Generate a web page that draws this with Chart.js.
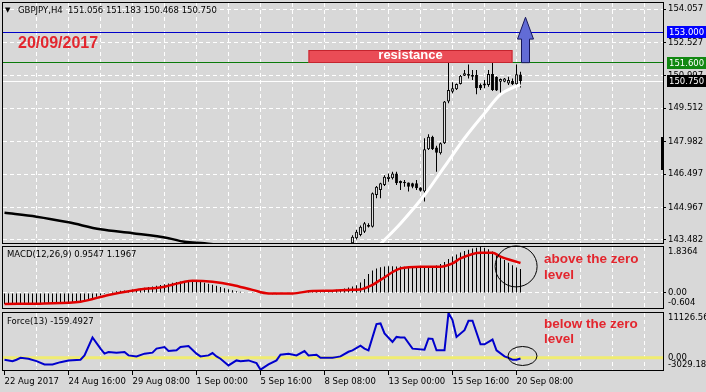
<!DOCTYPE html>
<html>
<head>
<meta charset="utf-8">
<title>GBPJPY H4</title>
<script src="https://cdn.jsdelivr.net/npm/chart.js@4.4.1/dist/chart.umd.min.js"></script>
<style>
    html, body { margin: 0; padding: 0; }
    body { position: relative; width: 706px; height: 392px; overflow: hidden; background: #d8d8d8; font-family: 'DejaVu Sans', sans-serif; }
    canvas { position: absolute; left: 0; }
    .lbl { position: absolute; white-space: nowrap; font-size: 8.5px; line-height: 10px; color: #000; }
    .note { position: absolute; white-space: nowrap; font: bold 13.5px 'Liberation Sans', Arial, sans-serif; line-height: 14px; color: #e3262e; }
    .tag { position: absolute; left: 667px; width: 37px; height: 12px; padding-left: 2px; font-size: 8.5px; line-height: 12px; color: #fff; }
</style>
</head>
<body>
<canvas id="chart-main" width="706" height="246" style="top:0"></canvas>
<canvas id="chart-macd" width="706" height="66" style="top:244px"></canvas>
<canvas id="chart-force" width="706" height="82" style="top:310px"></canvas>

<div class="lbl" style="left:5px;top:5px;font-size:7px">▼</div>
<div class="lbl" style="left:18px;top:5px">GBPJPY,H4&nbsp; 151.056 151.183 150.468 150.750</div>
<div class="note" style="left:18px;top:35px;font-size:16px;line-height:16px">20/09/2017</div>
<div class="note" style="left:308px;top:48px;width:205px;text-align:center;color:#fff;font-size:13px">resistance</div>
<div class="lbl" style="left:7px;top:249px">MACD(12,26,9) 0.9547 1.1967</div>
<div class="lbl" style="left:7px;top:316px">Force(13) -159.4927</div>
<div class="note" style="left:544px;top:252px">above the zero</div>
<div class="note" style="left:544px;top:268px">level</div>
<div class="note" style="left:544px;top:317px">below the zero</div>
<div class="note" style="left:544px;top:332px">level</div>
<div style="position:absolute;left:661px;top:137px;width:3px;height:33px;background:#000"></div>

<script>
(function () {
    'use strict';

    // time axis: one label every 16 bars (H4)
    var timeLabels = ['22 Aug 2017', '24 Aug 16:00', '29 Aug 08:00', '1 Sep 00:00', '5 Sep 16:00',
        '8 Sep 08:00', '13 Sep 00:00', '15 Sep 16:00', '20 Sep 08:00'];

    // candles that fall inside the price window (earlier ones are below it)
    var candleFirst = 87;
    var opens = [143.33, 143.56, 143.71, 143.86, 144.17, 144.09, 145.54, 145.77, 146.00, 146.27, 146.31,
        146.53, 146.18, 146.08, 146.11, 146.08, 146.08, 145.88, 145.70, 147.63, 148.21, 147.71, 147.45,
        147.91, 149.82, 150.27, 150.38, 150.62, 151.00, 151.08, 151.04, 151.04, 150.58, 150.55, 150.58,
        151.08, 150.96, 150.73, 150.73, 150.65, 150.76, 150.61, 151.056];
    var highs = [143.70, 143.95, 144.15, 144.30, 144.25, 145.65, 145.95, 146.10, 146.45, 146.53, 146.60,
        146.60, 146.20, 146.23, 146.11, 146.10, 146.23, 145.90, 148.14, 148.32, 148.25, 147.80, 147.95,
        149.85, 151.62, 150.70, 150.65, 151.04, 151.26, 151.52, 151.26, 151.26, 150.65, 150.81, 151.26,
        151.62, 150.98, 150.88, 150.90, 150.96, 150.88, 151.52, 151.183];
    var lows = [143.28, 143.50, 143.65, 143.80, 144.05, 144.05, 145.39, 145.39, 145.95, 146.15, 146.25,
        146.00, 145.77, 145.92, 145.70, 145.85, 145.77, 145.70, 145.24, 147.60, 147.60, 146.61, 147.40,
        147.88, 149.74, 150.20, 150.35, 150.60, 150.99, 150.88, 150.81, 150.15, 150.35, 150.43, 150.50,
        150.30, 150.30, 150.15, 150.70, 150.58, 150.58, 150.50, 150.468];
    var closes = [143.63, 143.86, 144.09, 144.25, 144.09, 145.62, 145.92, 146.08, 146.38, 146.38, 146.53,
        146.08, 146.08, 146.15, 145.92, 145.92, 145.85, 145.73, 147.63, 148.21, 147.63, 147.48, 147.91,
        149.82, 150.35, 150.43, 150.62, 151.00, 151.11, 151.00, 150.96, 150.43, 150.43, 150.65, 151.08,
        150.35, 150.32, 150.85, 150.88, 150.81, 150.61, 151.07, 150.750];

    var slowMaBars = [0, 8, 16, 24, 32, 41, 45, 50, 56];
    var slowMaVals = [144.73, 144.55, 144.29, 143.97, 143.79, 143.56, 143.40, 143.33, 143.20];
    var fastMaBars = [94, 99, 105, 110, 115, 120, 124, 127, 129];
    var fastMaVals = [143.30, 144.24, 145.54, 146.84, 148.14, 149.28, 150.15, 150.45, 150.60];

    var priceMin = 143.343, priceMax = 154.332;
    var priceTicks = [143.482, 144.967, 146.497, 147.982, 149.512, 150.997, 152.527, 154.057];
    var priceLevels = [153.000, 151.600, 150.750];

    var resistance = { from: 76, to: 127, low: 151.60, high: 152.18 };
    var arrowUp = { bar: 130.25, base: 151.60, neck: 152.68, tip: 153.68 };

    // MACD(12,26,9): main line as histogram, one value per bar
    var macdMain = [
        -0.44, -0.45, -0.45, -0.46, -0.46, -0.45, -0.45, -0.44, -0.44, -0.44,
        -0.43, -0.43, -0.43, -0.42, -0.42, -0.41, -0.40, -0.39, -0.38, -0.36,
        -0.32, -0.27, -0.21, -0.15, -0.09, -0.04, 0.01, 0.05, 0.07, 0.09,
        0.10, 0.12, 0.14, 0.16, 0.18, 0.21, 0.24, 0.26, 0.29, 0.32,
        0.35, 0.38, 0.41, 0.44, 0.46, 0.48, 0.49, 0.49, 0.47, 0.45,
        0.41, 0.37, 0.33, 0.29, 0.24, 0.19, 0.15, 0.11, 0.07, 0.05,
        0.03, 0.02, 0.01, 0.00, -0.01, -0.03, -0.04, -0.05, -0.05, -0.04,
        -0.03, -0.02, 0.00, 0.02, 0.03, 0.04, 0.05, 0.06, 0.07, 0.07,
        0.08, 0.10, 0.11, 0.13, 0.15, 0.18, 0.22, 0.26, 0.31, 0.42,
        0.56, 0.76, 0.90, 0.98, 1.03, 1.06, 1.07, 1.07, 1.06, 1.06,
        1.05, 1.04, 1.04, 1.03, 1.03, 1.04, 1.06, 1.08, 1.10, 1.16,
        1.24, 1.36, 1.46, 1.54, 1.62, 1.68, 1.73, 1.78, 1.81, 1.8364,
        1.81, 1.75, 1.66, 1.55, 1.43, 1.32, 1.21, 1.11, 1.02, 0.9547
    ];
    var signalBars = [0, 10, 19, 26, 33, 40, 45, 47, 52, 57, 62, 66, 72, 77, 82, 86, 89, 92, 94, 99,
        104, 109, 112, 114, 119, 122, 124, 129];
    var signalVals = [-0.44, -0.42, -0.35, -0.08, 0.12, 0.25, 0.45, 0.49, 0.45, 0.32, 0.12, -0.02, -0.02,
        0.08, 0.09, 0.12, 0.14, 0.32, 0.52, 0.98, 1.05, 1.05, 1.18, 1.38, 1.61, 1.61, 1.45, 1.1967];
    var macdTicks = [-0.604, 0, 1.8364];
    var macdTickLabels = ['-0.604', '0.00', '1.8364'];
    var macdRing = { bar: 127.9, value: 1.06 };

    // Force Index(13)
    var forceBars = [0, 2, 3, 4, 6, 8, 10, 12, 14, 16, 19, 20, 22, 24, 25, 26, 28, 30, 31, 33, 35, 37, 38,
        40, 41, 43, 44, 46, 48, 49, 51, 52, 53, 54, 56, 58, 59, 61, 63, 64, 66, 68, 69, 71, 73, 75, 76,
        78, 79, 82, 83, 84, 86, 87, 89, 90, 91, 93, 94, 95, 97, 98, 99, 100, 102, 105, 106, 107, 108,
        110, 111, 112, 113, 115, 116, 117, 119, 120, 122, 123, 125, 126, 127, 128, 129];
    var forceVals = [-480, -830, -480, 0, -230, -830, -1650, -1650, -1080, -650, -480, 600, 5040, 2280,
        1030, 1430, 1280, 1430, 600, 350, 1030, 1280, 2280, 2680, 1680, 1850, 2680, 2930, 1030, 350,
        600, 1180, 350, -230, -1900, -650, -830, -650, -1330, -2950, -1650, -650, 780, 1030, 600, 1680,
        600, 780, 0, 0, 170, 350, 1500, 1850, 3000, 2280, 1850, 8370, 8540, 6040, 3930, 5190, 5040,
        5040, 2280, 2030, 4790, 4700, 1850, 1850, 11126.56, 9370, 5190, 6870, 9200, 9200, 3360, 3360,
        4540, 1850, 350, 0, -480, -480, -159.49];
    var forceTicks = [-3029.182, 0, 11126.56];
    var forceTickLabels = ['-3029.182', '0.00', '11126.56'];
    var forceRing = { bar: 129.5, value: 450 };

    var X_MIN = -0.375, X_MAX = 164.625;   // 4 px per bar
    var TICK_FONT = { family: 'DejaVu Sans', size: 8.5 };
    var CLEAR = 'rgba(0,0,0,0)';

    function pts(xs, ys) {
        return xs.map(function (x, k) { return { x: x, y: ys[k] }; });
    }

    function candleRange(a, b) {
        return a.map(function (v, k) { return { x: candleFirst + k, y: [v, b[k]] }; });
    }

    function timeLabel(v) {
        if (v % 16 !== 0) return '';
        return timeLabels[v / 16] || '';
    }

    function tidy(width, height) {
        return function (s) {
            if (width !== null) s.width = width;
            if (height !== null) s.height = height;
            s.paddingLeft = s.paddingRight = s.paddingTop = s.paddingBottom = 0;
        };
    }

    function timeAxis(showLabels) {
        return {
            type: 'linear', min: X_MIN, max: X_MAX, offset: false,
            afterBuildTicks: function (s) {
                var t = [];
                for (var v = 0; v <= X_MAX; v += 8) t.push({ value: v });
                s.ticks = t;
            },
            afterFit: tidy(null, showLabels ? 22 : 0),
            grid: {
                offset: false,
                color: function (c) { return c.tick && c.tick.value > 0 ? '#ffffff' : CLEAR; },
                drawTicks: showLabels,
                tickLength: 5,
                tickColor: function (c) { return c.tick && timeLabel(c.tick.value) ? '#000' : CLEAR; }
            },
            border: { display: false, dash: [4, 3] },
            ticks: {
                display: showLabels, autoSkip: false, maxRotation: 0, minRotation: 0, align: 'start',
                padding: 2, color: '#000', font: TICK_FONT,
                callback: function (v) { return timeLabel(v); }
            }
        };
    }

    function valueAxis(min, max, ticks, label, gridColor, tickColor) {
        return {
            type: 'linear', position: 'right', min: min, max: max,
            afterBuildTicks: function (s) { s.ticks = ticks.map(function (v) { return { value: v }; }); },
            afterFit: tidy(43, null),
            grid: { color: gridColor, tickLength: 3, tickColor: tickColor },
            border: { display: false, dash: [4, 3] },
            ticks: { autoSkip: false, padding: 2, color: '#000', font: TICK_FONT, callback: label }
        };
    }

    // top label sits under its tick, bottom label above it, like the terminal does
    function edgeLabels(texts) {
        return function (v, i) {
            if (i === texts.length - 1) return ['', texts[i]];
            if (i === 0) return [texts[i], ''];
            return texts[i];
        };
    }

    function options(padding, yAxis, showTime) {
        return {
            responsive: false, animation: false, events: [], devicePixelRatio: 1,
            layout: { padding: padding },
            plugins: { legend: { display: false }, tooltip: { enabled: false } },
            scales: { x: timeAxis(showTime), y: yAxis }
        };
    }

    var frame = {
        id: 'frame',
        afterDraw: function (chart) {
            var a = chart.chartArea, ctx = chart.ctx;
            ctx.save();
            ctx.strokeStyle = '#000';
            ctx.lineWidth = 1;
            ctx.strokeRect(a.left - 0.5, a.top - 0.5, a.right - a.left + 1, a.bottom - a.top + 1);
            ctx.restore();
        }
    };

    function ring(center, rx, ry) {
        return {
            id: 'ring',
            afterDatasetsDraw: function (chart) {
                var ctx = chart.ctx;
                var x = chart.scales.x.getPixelForValue(center.bar);
                var y = chart.scales.y.getPixelForValue(center.value);
                ctx.save();
                ctx.strokeStyle = '#000';
                ctx.lineWidth = 1;
                ctx.beginPath();
                ctx.ellipse(x, y, rx, ry, 0, 0, Math.PI * 2);
                ctx.stroke();
                ctx.restore();
            }
        };
    }

    var levelColors = ['#0000c8', '#0a7a0a', '#ffffff'];
    var tagColors = ['#0000ff', '#118811', '#000000'];

    var mainMarks = {
        id: 'mainMarks',
        beforeDatasetsDraw: function (chart) {
            var a = chart.chartArea, ctx = chart.ctx, ys = chart.scales.y;
            ctx.save();
            ctx.lineWidth = 1;
            priceLevels.forEach(function (v, k) {
                var py = Math.floor(ys.getPixelForValue(v)) + 0.5;
                ctx.strokeStyle = levelColors[k];
                ctx.beginPath();
                ctx.moveTo(a.left, py);
                ctx.lineTo(a.right, py);
                ctx.stroke();
            });
            ctx.restore();
        },
        afterDatasetsDraw: function (chart) {
            var ctx = chart.ctx, xs = chart.scales.x, ys = chart.scales.y;
            var x1 = xs.getPixelForValue(resistance.from), x2 = xs.getPixelForValue(resistance.to);
            var y1 = ys.getPixelForValue(resistance.high), y2 = ys.getPixelForValue(resistance.low);
            ctx.save();
            ctx.fillStyle = 'rgb(234,76,86)';
            ctx.fillRect(x1, y1, x2 - x1, y2 - y1);
            ctx.strokeStyle = 'rgb(196,36,46)';
            ctx.lineWidth = 1;
            ctx.strokeRect(x1 + 0.5, Math.round(y1) + 0.5, x2 - x1 - 1, Math.round(y2 - y1) - 1);

            var cx = xs.getPixelForValue(arrowUp.bar);
            var yb = ys.getPixelForValue(arrowUp.base);
            var yn = ys.getPixelForValue(arrowUp.neck);
            var yt = ys.getPixelForValue(arrowUp.tip);
            ctx.beginPath();
            ctx.moveTo(cx - 4, yb);
            ctx.lineTo(cx - 4, yn);
            ctx.lineTo(cx - 8, yn);
            ctx.lineTo(cx, yt);
            ctx.lineTo(cx + 8, yn);
            ctx.lineTo(cx + 4, yn);
            ctx.lineTo(cx + 4, yb);
            ctx.closePath();
            ctx.fillStyle = 'rgb(98,108,214)';
            ctx.fill();
            ctx.strokeStyle = '#16165a';
            ctx.stroke();
            ctx.restore();
        }
    };

    Chart.defaults.font.family = 'DejaVu Sans';

    var main = new Chart(document.getElementById('chart-main'), {
        type: 'bar',
        data: {
            datasets: [
                { type: 'line', data: pts(slowMaBars, slowMaVals), borderColor: '#000', borderWidth: 2.5,
                    pointRadius: 0, cubicInterpolationMode: 'monotone', clip: 0, order: 1 },
                { type: 'line', data: pts(fastMaBars, fastMaVals), borderColor: '#fff', borderWidth: 3,
                    pointRadius: 0, cubicInterpolationMode: 'monotone', clip: 0, order: 1 },
                { data: candleRange(lows, highs), backgroundColor: '#000', maxBarThickness: 1,
                    grouped: false, inflateAmount: 0, order: 3 },
                { data: candleRange(opens, closes), borderColor: '#000', borderWidth: 1, borderSkipped: false,
                    backgroundColor: function (c) {
                        var k = c.dataIndex;
                        return closes[k] >= opens[k] ? '#fff' : '#000';
                    },
                    maxBarThickness: 3, minBarLength: 1, grouped: false, inflateAmount: 0, order: 2 }
            ]
        },
        options: options({ left: 3, top: 3, right: 0, bottom: 3 },
            valueAxis(priceMin, priceMax, priceTicks, function (v) { return v.toFixed(3); }, '#ffffff', '#000'),
            false),
        plugins: [mainMarks, frame]
    });

    new Chart(document.getElementById('chart-macd'), {
        type: 'bar',
        data: {
            datasets: [
                { type: 'line', data: pts(signalBars, signalVals), borderColor: '#e00000', borderWidth: 2.5,
                    pointRadius: 0, cubicInterpolationMode: 'monotone', clip: 0, order: 1 },
                { data: macdMain.map(function (v, i) { return { x: i, y: v }; }), backgroundColor: '#000',
                    maxBarThickness: 1, grouped: false, inflateAmount: 0, order: 2 }
            ]
        },
        options: options({ left: 3, top: 3, right: 0, bottom: 2 },
            valueAxis(macdTicks[0], macdTicks[2], macdTicks, edgeLabels(macdTickLabels),
                function (c) { return c.tick && c.tick.value === 0 ? '#ffffff' : CLEAR; },
                function (c) { return c.tick && c.tick.value === 0 ? '#000' : CLEAR; }),
            false),
        plugins: [ring(macdRing, 21, 20.5), frame]
    });

    var zeroLevel = {
        id: 'zeroLevel',
        beforeDatasetsDraw: function (chart) {
            var a = chart.chartArea, ctx = chart.ctx;
            var y = chart.scales.y.getPixelForValue(0);
            ctx.save();
            ctx.strokeStyle = 'rgb(240,236,112)';
            ctx.lineWidth = 3;
            ctx.beginPath();
            ctx.moveTo(a.left, y);
            ctx.lineTo(a.right, y);
            ctx.stroke();
            ctx.restore();
        }
    };

    new Chart(document.getElementById('chart-force'), {
        type: 'line',
        data: {
            datasets: [
                { data: pts(forceBars, forceVals), borderColor: '#0000cc', borderWidth: 2, pointRadius: 0,
                    tension: 0, clip: 0 }
            ]
        },
        options: options({ left: 3, top: 3, right: 0, bottom: 0 },
            valueAxis(forceTicks[0], forceTicks[2], forceTicks, edgeLabels(forceTickLabels), CLEAR, CLEAR),
            true),
        plugins: [zeroLevel, ring(forceRing, 14.5, 9.5), frame]
    });

    // price tags on the right scale, placed from the main price scale
    priceLevels.forEach(function (v, k) {
        var tag = document.createElement('div');
        tag.className = 'tag';
        tag.textContent = v.toFixed(3);
        tag.style.background = tagColors[k];
        tag.style.top = (Math.round(main.scales.y.getPixelForValue(v)) - 6) + 'px';
        document.body.appendChild(tag);
    });
})();
</script>
</body>
</html>
